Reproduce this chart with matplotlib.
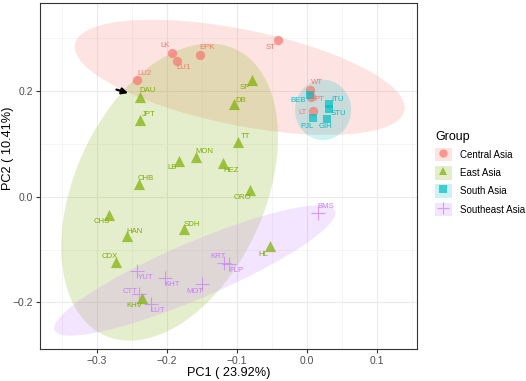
import matplotlib
matplotlib.use("Agg")
import matplotlib.pyplot as plt
import numpy as np
from matplotlib.patches import Rectangle
from matplotlib.lines import Line2D
from matplotlib.legend_handler import HandlerTuple

plt.rcParams["font.family"] = ["Liberation Sans", "DejaVu Sans"]

# PCA scores
ca_names = ["LK", "LU1", "EPK", "LU2", "ST", "WT", "PT", "LT"]
ca_pc1 = [-0.192, -0.186, -0.153, -0.243, -0.041, 0.005, 0.006, 0.008]
ca_pc2 = [0.272, 0.257, 0.268, 0.220, 0.296, 0.202, 0.189, 0.161]

ea_names = ["DAU", "JPT", "DB", "SP", "TT", "HEZ", "MON", "LB", "CHB", "CHS",
            "HAN", "SDH", "ORO", "HL", "CDX", "KHV"]
ea_pc1 = [-0.239, -0.239, -0.104, -0.079, -0.098, -0.120, -0.158, -0.182, -0.240,
          -0.283, -0.257, -0.176, -0.082, -0.053, -0.272, -0.235]
ea_pc2 = [0.189, 0.145, 0.175, 0.220, 0.104, 0.063, 0.075, 0.068, 0.024, -0.034,
          -0.075, -0.062, 0.013, -0.094, -0.124, -0.191]

sa_names = ["BEB", "ITU", "STU", "PJL", "GIH"]
sa_pc1 = [0.005, 0.031, 0.032, 0.008, 0.029]
sa_pc2 = [0.192, 0.175, 0.166, 0.148, 0.147]

sea_names = ["BMS", "YUT", "KHT", "CTT", "LUT", "MOT", "KRT", "FLP"]
sea_pc1 = [0.016, -0.242, -0.203, -0.240, -0.223, -0.150, -0.119, -0.112]
sea_pc2 = [-0.031, -0.140, -0.153, -0.184, -0.202, -0.165, -0.125, -0.127]

groups = ["Central Asia", "East Asia", "South Asia", "Southeast Asia"]

# 95% ellipses: centre, semi-axis vectors (PC1, PC2)
ell_center = [(-0.096, 0.2255), (-0.196, 0.0085), (0.023, 0.164), (-0.160, -0.1396)]
ell_a = [(0.2351, -0.0630), (-0.0929, -0.2708), (0.040, 0.0), (0.200, 0.1132)]
ell_b = [(0.0136, 0.0887), (0.1236, -0.0740), (0.0, 0.057), (0.0158, -0.0486)]

# label offsets in pixels (dx right, dy down)
ca_off = [(-7, -7), (7, 7), (7, -7), (8, -7), (-8, 7), (7, -7), (8, 3), (-10, 1)]
ea_off = [(8, -6), (9, -5), (7, -4), (-7, 7), (7, -5), (8, 7), (8, -5), (-7, 7),
          (7, -5), (-7, 7), (8, -5), (8, -5), (-7, 8), (-7, 8), (-7, -6), (-8, 8)]
sa_off = [(-12, 5), (9, -5), (9, 5), (-6, 8), (-2, 8)]
sea_off = [(8, -7), (8, 7), (7, 7), (-9, -2), (7, 7), (-7, 8), (-6, -6), (8, 7)]

colors = ["#F8766D", "#7CAE00", "#00BFC4", "#C77CFF"]
markers = ["o", "^", "s", "+"]
sizes = [45, 65, 38, 90]

fig = plt.figure(figsize=(5.26, 3.81), dpi=100)
ax = fig.add_axes([40 / 526, 1 - 349 / 381, 377 / 526, 346 / 381])

data = [(ca_names, ca_pc1, ca_pc2, ca_off), (ea_names, ea_pc1, ea_pc2, ea_off),
        (sa_names, sa_pc1, sa_pc2, sa_off), (sea_names, sea_pc1, sea_pc2, sea_off)]

t = np.linspace(0, 2 * np.pi, 200)
for i in range(4):
    cx, cy = ell_center[i]
    ex = cx + np.cos(t) * ell_a[i][0] + np.sin(t) * ell_b[i][0]
    ey = cy + np.cos(t) * ell_a[i][1] + np.sin(t) * ell_b[i][1]
    ax.fill(ex, ey, color=colors[i], alpha=0.2, lw=0, zorder=1)

for i, (nm, px, py, off) in enumerate(data):
    if markers[i] == "+":
        ax.scatter(px, py, s=sizes[i], marker="+", color=colors[i], alpha=0.7,
                   linewidths=0.8, zorder=3)
    else:
        ax.scatter(px, py, s=sizes[i], marker=markers[i], color=colors[i], alpha=0.7,
                   linewidths=0, zorder=3)
    for name, xx, yy, (dx, dy) in zip(nm, px, py, off):
        ax.annotate(name, (xx, yy), xytext=(dx * 0.72, -dy * 0.72),
                    textcoords="offset points", ha="center", va="center",
                    fontsize=5.6, color=colors[i], zorder=4)

ax.annotate("", xy=(-0.2514, 0.1943), xytext=(-0.2757, 0.2038),
            arrowprops=dict(arrowstyle="-|>", color="black", lw=1.6,
                            mutation_scale=9), zorder=5)

ax.set_xlim(-0.381, 0.157)
ax.set_ylim(-0.288, 0.366)
ax.set_xticks([-0.3, -0.2, -0.1, 0.0, 0.1])
ax.set_xticks(np.arange(-0.35, 0.16, 0.1), minor=True)
ax.set_yticks([-0.2, 0.0, 0.2])
ax.set_yticks([-0.1, 0.1, 0.3], minor=True)
ax.set_xticklabels(["\u22120.3", "\u22120.2", "\u22120.1", "0.0", "0.1"])
ax.set_yticklabels(["\u22120.2", "0.0", "0.2"])
ax.grid(True, which="major", color="#EBEBEB", lw=0.8, zorder=0)
ax.grid(True, which="minor", color="#F2F2F2", lw=0.5, zorder=0)
ax.set_axisbelow(True)
ax.tick_params(which="major", length=3, color="#333333", labelsize=7.5,
               labelcolor="#4D4D4D", pad=2)
ax.tick_params(which="minor", length=0)
for s in ax.spines.values():
    s.set_color("#333333")
    s.set_linewidth(0.8)
ax.set_xlabel("PC1 ( 23.92%)", fontsize=9.2, labelpad=1)
ax.set_ylabel("PC2 ( 10.41%)", fontsize=9.2)
ax.yaxis.set_label_coords(-0.069, 0.58)

handles = []
for i in range(4):
    bg = Rectangle((0, 0), 1, 1, facecolor=colors[i], alpha=0.2, lw=0)
    mk = Line2D([], [], marker=markers[i], color=colors[i], alpha=0.7, ls="",
                markersize=6 if markers[i] != "+" else 8,
                markeredgewidth=0 if markers[i] != "+" else 0.8)
    handles.append((bg, mk))
leg = fig.legend(handles, groups,
                 handler_map={tuple: HandlerTuple(ndivide=1, pad=0)},
                 loc="upper left", bbox_to_anchor=(433 / 526, 1 - 129 / 381),
                 frameon=False, title="Group", fontsize=7, title_fontsize=9,
                 handlelength=1.75, handleheight=1.75, labelspacing=0.5,
                 handletextpad=0.8, borderpad=0.2, borderaxespad=0,
                 alignment="left")
fig.savefig("out.png", dpi=100)
